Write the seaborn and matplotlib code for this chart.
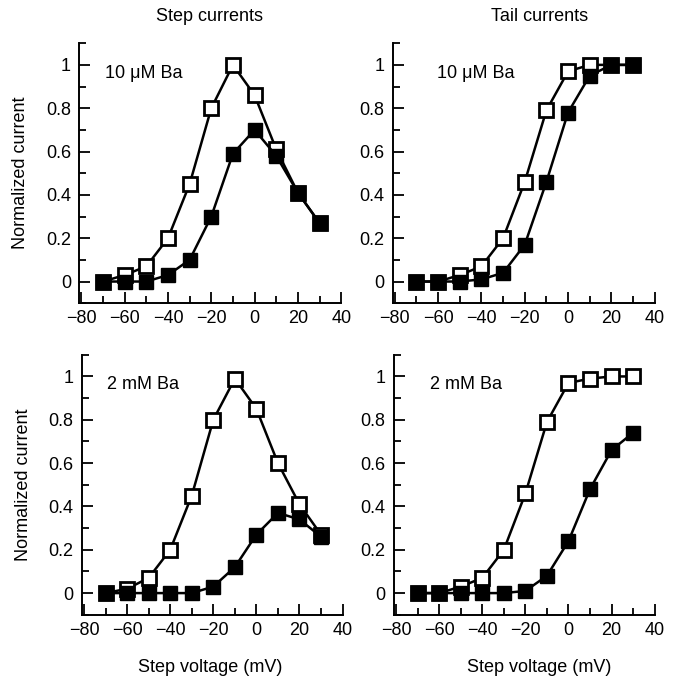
import pandas as pd
import matplotlib.pyplot as plt
from matplotlib.ticker import MultipleLocator, FuncFormatter
import seaborn as sns

# Step voltages (mV)
voltage = [-70, -60, -50, -40, -30, -20, -10, 0, 10, 20, 30]

# Step currents, 10 uM Ba
step_10uM_open = [0, 0.03, 0.07, 0.20, 0.45, 0.80, 1.00, 0.86, 0.61, 0.41, 0.27]
step_10uM_filled = [0, 0, 0, 0.03, 0.10, 0.30, 0.59, 0.70, 0.58, 0.41, 0.27]
# Tail currents, 10 uM Ba
tail_10uM_open = [0, 0, 0.03, 0.07, 0.20, 0.46, 0.79, 0.97, 1.00, 1.00, 1.00]
tail_10uM_filled = [0, 0, 0, 0.01, 0.04, 0.17, 0.46, 0.78, 0.95, 1.00, 1.00]
# Step currents, 2 mM Ba
step_2mM_open = [0, 0.02, 0.07, 0.20, 0.45, 0.80, 0.99, 0.85, 0.60, 0.41, 0.27]
step_2mM_filled = [0, 0, 0, 0, 0, 0.03, 0.12, 0.27, 0.37, 0.34, 0.26]
# Tail currents, 2 mM Ba
tail_2mM_open = [0, 0, 0.03, 0.07, 0.20, 0.46, 0.79, 0.97, 0.99, 1.00, 1.00]
tail_2mM_filled = [0, 0, 0, 0, 0, 0.01, 0.08, 0.24, 0.48, 0.66, 0.74]

col_titles = ["Step currents", "Tail currents"]
panel_labels = ["10 \u03bcM Ba", "10 \u03bcM Ba", "2 mM Ba", "2 mM Ba"]

sns.set_style("ticks")
plt.rcParams['font.family'] = ['Liberation Sans', 'DejaVu Sans']
plt.rcParams['axes.unicode_minus'] = True
plt.rcParams['text.color'] = 'black'
plt.rcParams['axes.labelcolor'] = 'black'

fig = plt.figure(figsize=(6.77, 6.97), dpi=100)

# axes rectangles in figure fraction (left, bottom, width, height)
rects = [
    (0.117, 0.565, 0.387, 0.373),
    (0.580, 0.565, 0.387, 0.373),
    (0.121, 0.118, 0.385, 0.373),
    (0.582, 0.118, 0.385, 0.373),
]
series = [
    (step_10uM_open, step_10uM_filled),
    (tail_10uM_open, tail_10uM_filled),
    (step_2mM_open, step_2mM_filled),
    (tail_2mM_open, tail_2mM_filled),
]
label_x = [0.10, 0.17, 0.095, 0.137]

for i, (rect, (op, fi)) in enumerate(zip(rects, series)):
    ax = fig.add_axes(rect)
    df = pd.DataFrame({"v": voltage, "open": op, "filled": fi})
    sns.lineplot(data=df, x="v", y="open", ax=ax, color="black", lw=1.8,
                 marker="s", markersize=10, markerfacecolor="white",
                 markeredgecolor="black", markeredgewidth=2.0)
    sns.lineplot(data=df, x="v", y="filled", ax=ax, color="black", lw=1.8,
                 marker="s", markersize=10, markerfacecolor="black",
                 markeredgecolor="black", markeredgewidth=1.0)
    ax.set_xlim(-81, 40)
    ax.set_ylim(-0.1, 1.1)
    ax.xaxis.set_major_locator(MultipleLocator(20))
    ax.xaxis.set_minor_locator(MultipleLocator(10))
    ax.yaxis.set_major_locator(MultipleLocator(0.2))
    ax.yaxis.set_minor_locator(MultipleLocator(0.1))
    ax.yaxis.set_major_formatter(FuncFormatter(lambda v, p: f"{v:g}"))
    ax.tick_params(which="major", direction="in", length=8, width=1.3,
                   labelsize=13, color="black", labelcolor="black")
    ax.tick_params(which="minor", direction="in", length=5, width=1.3,
                   color="black")
    ax.tick_params(axis="y", pad=6)
    ax.tick_params(axis="x", pad=5)
    for s in ["left", "bottom"]:
        ax.spines[s].set_linewidth(1.4)
        ax.spines[s].set_color("black")
    sns.despine(ax=ax)
    ax.set_xlabel("")
    ax.set_ylabel("")
    if i % 2 == 0:
        ax.set_ylabel("Normalized current", fontsize=13)
        ax.yaxis.set_label_coords(-0.19, 0.5)
    ax.text(label_x[i], 0.885, panel_labels[i], transform=ax.transAxes,
            fontsize=13, va="center", ha="left")

# column titles and shared x labels
fig.text(0.310, 0.976, col_titles[0], ha="center", va="center", fontsize=13)
fig.text(0.797, 0.976, col_titles[1], ha="center", va="center", fontsize=13)
fig.text(0.310, 0.042, "Step voltage (mV)", ha="center", va="center", fontsize=13)
fig.text(0.797, 0.042, "Step voltage (mV)", ha="center", va="center", fontsize=13)

fig.savefig("out.png", dpi=100)
